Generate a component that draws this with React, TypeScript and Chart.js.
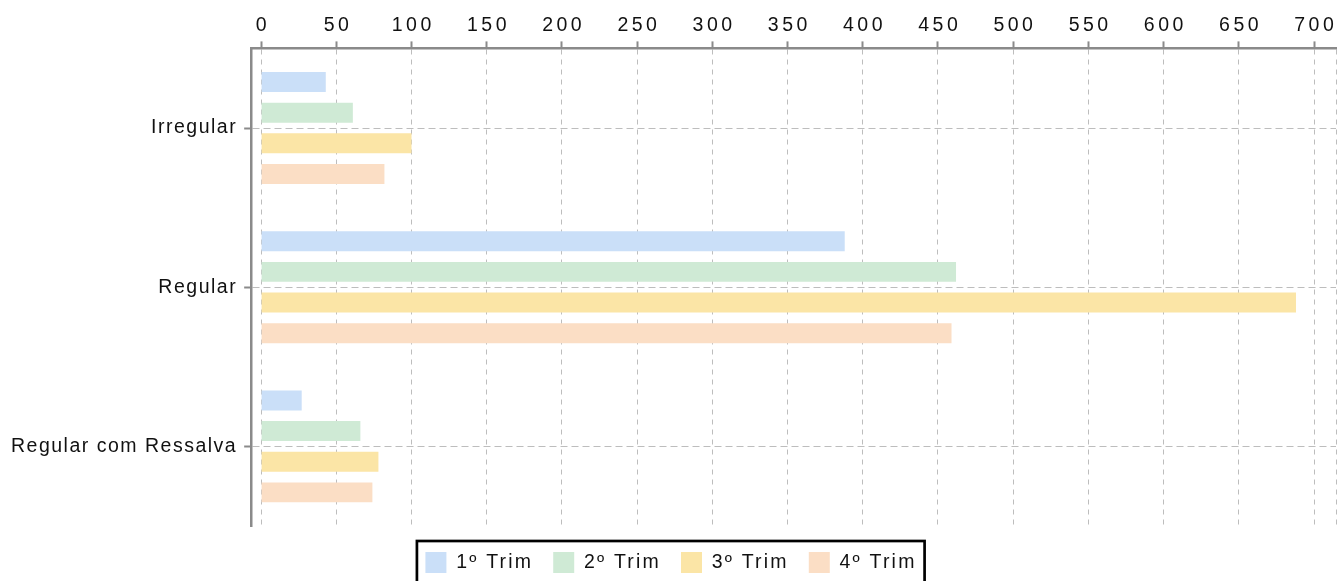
import React, { useEffect, useRef } from 'react';
import { Chart, registerables } from 'chart.js';

Chart.register(...registerables);

// ---- data ----
const categories = ['Irregular', 'Regular', 'Regular com Ressalva'];
const seriesLabels = ['1º Trim', '2º Trim', '3º Trim', '4º Trim'];
const trim1 = [43, 388, 27];
const trim2 = [61, 462, 66];
const trim3 = [100, 688, 78];
const trim4 = [82, 459, 74];
const xTickValues = [0, 50, 100, 150, 200, 250, 300, 350, 400, 450, 500, 550, 600, 650, 700];
const X_MIN = -6.6;
const X_MAX = 714.6;

const seriesColors = ['#cadff8', '#cfead5', '#fbe5a6', '#fbdec5'];

const FONT_FAMILY = "'Liberation Sans', Arial, Helvetica, sans-serif";
const FONT_SIZE = 19.5;
const TEXT_COLOR = '#111111';
const AXIS_COLOR = '#8a8a8a';
const GRID_COLOR = '#bdbdbd';
const LABEL_LS = 1.5;
const LEGEND_LS = 2.2;
const TICK_LS = 3.5;

const W = 1340;
const H = 583;

const stylePlugin = {
  id: 'stylePlugin',
  beforeUpdate(chart: any) {
    chart.ctx.letterSpacing = LABEL_LS + 'px';
  },
  beforeLayout(chart: any) {
    chart.ctx.letterSpacing = LABEL_LS + 'px';
    const lg: any = chart.legend;
    if (lg && !lg.__wrapped) {
      const origFit = lg.fit.bind(lg);
      lg.fit = () => {
        const c = chart.ctx;
        c.save();
        c.letterSpacing = LEGEND_LS + 'px';
        origFit();
        c.restore();
      };
      const origDraw = lg.draw.bind(lg);
      lg.draw = () => {
        const c = chart.ctx;
        c.save();
        c.letterSpacing = LEGEND_LS + 'px';
        origDraw();
        c.restore();
      };
      lg.__wrapped = true;
    }
  },
  beforeDraw(chart: any) {
    chart.ctx.letterSpacing = LABEL_LS + 'px';
    const xs: any = chart.scales.x;
    if (xs && !xs.__wrapped) {
      const orig = xs.drawLabels.bind(xs);
      xs.drawLabels = (area: any) => {
        const c = chart.ctx;
        c.save();
        c.letterSpacing = TICK_LS + 'px';
        c.translate(TICK_LS / 2, 0);
        orig(area);
        c.restore();
      };
      xs.__wrapped = true;
    }
  },
  afterDraw(chart: any) {
    const lg: any = chart.legend;
    if (!lg || !lg.legendHitBoxes || !lg.legendHitBoxes.length) return;
    const hb = lg.legendHitBoxes;
    const left = Math.min(...hb.map((h: any) => h.left)) - 8.5;
    const right = Math.max(...hb.map((h: any) => h.left + h.width)) + 8;
    const top = hb[0].top - 11;
    const c = chart.ctx;
    c.save();
    c.lineWidth = 2.7;
    c.strokeStyle = '#000000';
    c.setLineDash([]);
    c.strokeRect(left, top, right - left, 200);
    c.restore();
  },
};

export default function App() {
  const canvasRef = useRef<HTMLCanvasElement | null>(null);

  useEffect(() => {
    if (!canvasRef.current) return;
    const series = [trim1, trim2, trim3, trim4];
    const chart = new Chart(canvasRef.current, {
      type: 'bar',
      data: {
        labels: categories,
        datasets: series.map((d, i) => ({
          label: seriesLabels[i],
          data: d,
          backgroundColor: seriesColors[i],
          borderColor: seriesColors[i],
          borderWidth: 0,
          categoryPercentage: 0.77,
          barPercentage: 0.65,
        })),
      },
      options: {
        indexAxis: 'y',
        responsive: false,
        animation: false,
        devicePixelRatio: 1,
        layout: { padding: { top: 10, left: 4, right: 2, bottom: 0 } },
        scales: {
          x: {
            type: 'linear',
            position: 'top',
            min: X_MIN,
            max: X_MAX,
            afterBuildTicks: (axis: any) => {
              axis.ticks = [X_MIN, ...xTickValues, X_MAX].map((v) => ({ value: v }));
            },
            ticks: {
              autoSkip: false,
              maxRotation: 0,
              padding: 4,
              color: TEXT_COLOR,
              font: { family: FONT_FAMILY, size: FONT_SIZE },
              callback: (v: any) => (xTickValues.includes(Number(v)) ? String(v) : ''),
            },
            grid: {
              color: (ctx: any) =>
                ctx.tick && ctx.tick.value === X_MIN ? 'rgba(0,0,0,0)' : GRID_COLOR,
              lineWidth: 1,
              tickLength: 7,
              tickWidth: 2,
              tickBorderDash: [],
              tickColor: (ctx: any) =>
                ctx.tick && xTickValues.includes(ctx.tick.value) ? AXIS_COLOR : 'rgba(0,0,0,0)',
            },
            border: { display: true, color: AXIS_COLOR, width: 2.5, dash: [5, 5] },
          },
          y: {
            type: 'category',
            position: 'left',
            offset: true,
            ticks: {
              padding: 7,
              color: TEXT_COLOR,
              font: { family: FONT_FAMILY, size: FONT_SIZE },
            },
            grid: {
              offset: false,
              color: GRID_COLOR,
              lineWidth: 1,
              tickLength: 7,
              tickWidth: 2,
              tickBorderDash: [],
              tickColor: AXIS_COLOR,
            },
            border: { display: true, color: AXIS_COLOR, width: 2.5, dash: [7, 4] },
          },
        },
        plugins: {
          legend: {
            display: true,
            position: 'bottom',
            align: 'center',
            title: {
              display: true,
              text: '',
              padding: { top: 5, bottom: 0 },
              font: { size: 1, lineHeight: 1 },
            },
            labels: {
              boxWidth: 21,
              boxHeight: 21,
              padding: 20,
              color: TEXT_COLOR,
              font: { family: FONT_FAMILY, size: FONT_SIZE },
            },
          },
          tooltip: { enabled: false },
        },
      } as any,
      plugins: [stylePlugin as any],
    });
    return () => chart.destroy();
  }, []);

  return (
    <div
      style={{
        position: 'fixed',
        left: 0,
        top: 0,
        width: W,
        height: 581,
        overflow: 'hidden',
        background: '#ffffff',
      }}
    >
      <canvas ref={canvasRef} width={W} height={H} style={{ display: 'block', width: W, height: H }} />
    </div>
  );
}
